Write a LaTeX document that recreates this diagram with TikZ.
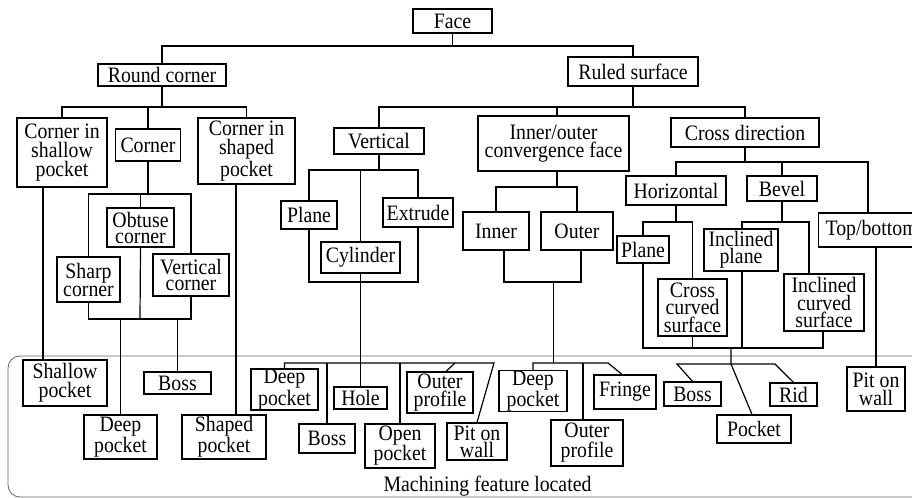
\documentclass[tikz,border=0pt]{standalone}
\usepackage{fontspec}
\setmainfont[FakeStretch=0.9]{Liberation Serif}
\begin{document}
\begin{tikzpicture}[x=0.75pt,y=-0.75pt,
  bx/.style={draw, line width=0.9pt, inner sep=0pt, align=center,
    font=\fontsize{16.5pt}{14pt}\selectfont},
  sz/.style 2 args={minimum width=#1*0.75pt, minimum height=#2*0.75pt},
  lead/.style={font=\fontsize{16.5pt}{#1}\selectfont},
  ln/.style={line width=0.9pt}]
\useasboundingbox (0,0) rectangle (912,498);
% frame of the machining features
\draw[line width=0.6pt, gray!80!black, rounded corners=9pt] (8,356) rectangle (924,497);
\node[anchor=base, font=\fontsize{16.5pt}{15pt}\selectfont] (lbl) at (487.5,491) {Machining feature located};
% level 0-1
\node[bx, sz={79}{24}] (face) at (452.5,21) {Face};
\node[bx, sz={128}{22}] (round) at (162,75) {Round corner};
\node[bx, sz={130}{29}] (ruled) at (633,71.5) {Ruled surface};
% round corner children
\node[bx, sz={90}{69}, lead=14.5pt] (cshallow) at (62,152.5) {Corner in\\shallow\\pocket};
\node[bx, sz={65}{32}] (corner) at (148,145) {Corner};
\node[bx, sz={97}{66}, lead=14.5pt] (cshaped) at (246.5,151) {Corner in\\shaped\\pocket};
\node[bx, sz={67}{39}, lead=12pt] (obtuse) at (140.5,227.5) {Obtuse\\corner};
\node[bx, sz={63}{45}, lead=13.5pt] (sharp) at (88.5,279.5) {Sharp\\corner};
\node[bx, sz={76}{42}, lead=12.5pt] (vcorner) at (191,275) {Vertical\\corner};
% ruled surface children
\node[bx, sz={90}{26}] (vertical) at (379,141) {Vertical};
\node[bx, sz={151}{55}, lead=13.5pt] (inout) at (553.5,143.5) {Inner/outer\\convergence face};
\node[bx, sz={148}{29}] (cross) at (745,132.5) {Cross direction};
\node[bx, sz={56}{28}] (plane1) at (309,215) {Plane};
\node[bx, sz={70}{29}] (extrude) at (418,212.5) {Extrude};
\node[bx, sz={79}{31}] (cylinder) at (360.5,257.5) {Cylinder};
\node[bx, sz={66}{38}] (inner) at (496,231) {Inner};
\node[bx, sz={72}{38}] (outer) at (577,231) {Outer};
\node[bx, sz={100}{29}] (horiz) at (676,190.5) {Horizontal};
\node[bx, sz={70}{25}] (bevel) at (782,188.5) {Bevel};
\node[bx, sz={106}{34}, anchor=west, align=left, inner xsep=3pt] (topbot) at (818,230) {Top/bottom};
\node[bx, sz={52}{27}] (plane2) at (643,249.5) {Plane};
\node[bx, sz={69}{57}, lead=13pt] (crossc) at (692.5,307.5) {Cross\\curved\\surface};
\node[bx, sz={74}{42}, lead=12.5pt] (inclp) at (741,250) {Inclined\\plane};
\node[bx, sz={80}{57}, lead=13pt] (inclc) at (824,302.5) {Inclined\\curved\\surface};
% machining features
\node[bx, sz={84}{46}, lead=14.5pt] (shallow) at (65,383) {Shallow\\pocket};
\node[bx, sz={73}{44}] (deepL) at (120.5,437) {Deep\\pocket};
\node[bx, sz={67}{22}] (bossL) at (177.5,383) {Boss};
\node[bx, sz={84}{44}] (shapedp) at (224,437) {Shaped\\pocket};
\node[bx, sz={67}{41}, lead=13.5pt] (deepM) at (284.5,389.5) {Deep\\pocket};
\node[bx, sz={56}{29}] (bossM) at (327,438.5) {Boss};
\node[bx, sz={53}{22}] (hole) at (360.5,398) {Hole};
\node[bx, sz={70}{44}, lead=15pt] (openp) at (400,446) {Open\\pocket};
\node[bx, sz={66}{41}, lead=13.5pt] (outerpM) at (440,392.5) {Outer\\profile};
\node[bx, sz={60}{37}, lead=13pt] (pitM) at (477,441.5) {Pit on\\wall};
\node[bx, sz={68}{40}, lead=13.5pt] (deepR) at (533,391) {Deep\\pocket};
\node[bx, sz={72}{46}, lead=15pt] (outerpR) at (587,443) {Outer\\profile};
\node[bx, sz={62}{34}] (fringe) at (625,392) {Fringe};
\node[bx, sz={57}{24}] (bossR) at (692.5,394) {Boss};
\node[bx, sz={47}{23}] (rid) at (793.5,394.5) {Rid};
\node[bx, sz={74}{28}] (pocket) at (754,429) {Pocket};
\node[bx, sz={58}{44}, lead=13.5pt] (pitR) at (876,389) {Pit on\\wall};
% junctions
\coordinate (jFace) at (452.5,46);
\coordinate (jR) at (162,107);
\coordinate (jC) at (148,194);
\coordinate (jC2) at (140,319);
\coordinate (jRu) at (633,107);
\coordinate (jV) at (379,170);
\coordinate (jV2) at (360.5,282);
\coordinate (jM) at (360.5,363);
\coordinate (jMr) at (494,363);
\coordinate (jMo) at (455,363);
\coordinate (jI) at (557,187);
\coordinate (jI2) at (553.5,282);
\coordinate (jIR) at (553.5,363);
\coordinate (jIRr) at (608,363);
\coordinate (jX) at (745,162);
\coordinate (jH) at (676,222);
\coordinate (jB) at (782,222);
\coordinate (jXb) at (731,348);
\coordinate (jXc) at (731,364);
\coordinate (jXl) at (677,364);
\coordinate (jXr) at (775,364);
% connectors
\draw[ln] (face.south) -- (jFace);
\draw[ln] (round.north) |- (jFace) -| (ruled.north);
\draw[ln] (round.south) -- (jR);
\draw[ln] (cshallow.north) |- (jR) -| (cshaped.north);
\draw[ln] (corner.north) -- (corner.north |- jR);
\draw[ln] (corner.south) -- (jC);
\draw[ln] (sharp.north) |- (vcorner.north |- jC) -- (vcorner.north);
\draw[ln] (obtuse.north) -- (obtuse.north |- jC);
\draw[ln] (sharp.south) |- (vcorner.south |- jC2) -- (vcorner.south);
\draw[ln] (obtuse.south) -- (jC2);
\draw[ln] (deepL.north) -- (deepL.north |- jC2);
\draw[ln] (bossL.north) -- (bossL.north |- jC2);
\draw[ln] (cshallow.south -| 43,0) -- (shallow.north -| 43,0);
\draw[ln] (cshaped.south -| 236,0) -- (shapedp.north -| 236,0);
\draw[ln] (ruled.south) -- (jRu);
\draw[ln] (vertical.north) |- (jRu) -| (cross.north);
\draw[ln] (inout.north -| 557,0) -- (jRu -| 557,0);
\draw[ln] (vertical.south) -- (jV);
\draw[ln] (plane1.north) |- (jV) -| (extrude.north);
\draw[ln] (cylinder.north) -- (cylinder.north |- jV);
\draw[ln] (plane1.south) |- (jV2) -| (extrude.south);
\draw[ln] (cylinder.south) -- (jM) -- (hole.north);
\draw[ln] (deepM.north) |- (jMr) -- (pitM.north);
\draw[ln] (bossM.north) -- (bossM.north |- jM);
\draw[ln] (openp.north) -- (openp.north |- jM);
\draw[ln] (jMo) -- (outerpM.north -| 446,0);
\draw[ln] (inout.south -| 557,0) -- (jI);
\draw[ln] (inner.north) |- (jI) -| (outer.north);
\draw[ln] (inner.south -| 504,0) |- (jI2) -| (outer.south -| 581,0);
\draw[ln] (jI2) -- (jIR);
\draw[ln] (deepR.north) |- (jIRr) -- (fringe.north -| 622,0);
\draw[ln] (outerpR.north -| 583,0) -- (jIR -| 583,0);
\draw[ln] (cross.south) -- (jX);
\draw[ln] (horiz.north) |- (jX) -| (topbot.north -| 868,0);
\draw[ln] (bevel.north) -- (bevel.north |- jX);
\draw[ln] (horiz.south) -- (jH);
\draw[ln] (plane2.north) |- (jH) -| (crossc.north);
\draw[ln] (bevel.south) -- (jB);
\draw[ln] (inclp.north -| 742,0) |- (jB) -| (inclc.north -| 809,0);
\draw[ln] (plane2.south) |- (jXb) -| (inclc.south -| 823,0);
\draw[ln] (crossc.south) -- (crossc.south |- jXb);
\draw[ln] (inclp.south -| 742,0) -- (jXb -| 742,0);
\draw[ln] (jXb) -- (jXc) -- (pocket.north -| 752,0);
\draw[ln] (bossR.north) -- (jXl) -- (jXr) -- (rid.north);
\draw[ln] (topbot.south -| 876,0) -- (pitR.north);
\end{tikzpicture}
\end{document}
